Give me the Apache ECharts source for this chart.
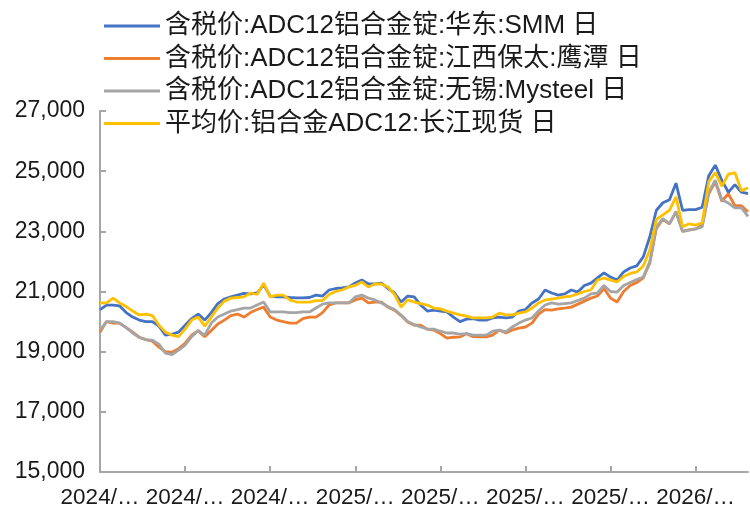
<!DOCTYPE html>
<html>
<head>
<meta charset="utf-8">
<script src="https://cdn.jsdelivr.net/npm/echarts@6/dist/echarts.min.js"></script>
<style>
  html, body { margin: 0; padding: 0; background: #fff; }
  #chart { width: 750px; height: 513px; }
</style>
</head>
<body>
<div id="chart"></div>
<script>
// Weekly ADC12 aluminium alloy ingot prices (yuan/ton, tax included)
const seriesNames = [
  '含税价:ADC12铝合金锭:华东:SMM 日',
  '含税价:ADC12铝合金锭:江西保太:鹰潭 日',
  '含税价:ADC12铝合金锭:无锡:Mysteel 日',
  '平均价:铝合金ADC12:长江现货 日'
];

const smmEast = [
  20400, 20550, 20550, 20520, 20300, 20150, 20050, 20000, 20000, 19850,
  19550, 19580, 19650, 19880, 20100, 20250, 20050, 20300, 20600, 20750,
  20820, 20880, 20940, 20920, 20950, 21220, 20850, 20820, 20820, 20800,
  20790, 20790, 20800, 20880, 20850, 21050, 21100, 21120, 21150, 21280,
  21380, 21250, 21250, 21280, 21100, 20950, 20650, 20850, 20820, 20550,
  20350, 20380, 20350, 20320, 20150, 20000, 20080, 20100, 20050, 20050,
  20120, 20150, 20120, 20150, 20350, 20400, 20620, 20750, 21050, 20950,
  20880, 20920, 21050, 20980, 21200, 21280, 21450, 21620, 21480, 21380,
  21650, 21780, 21850, 22150, 22820, 23700, 23950, 24050, 24600, 23700,
  23720, 23720, 23800, 24850, 25200, 24700, 24300, 24550, 24300, 24250
];

const baotaiYingtan = [
  19650, 20000, 19950, 19950, 19800, 19650, 19480, 19400, 19350, 19150,
  19000, 18980, 19100, 19280, 19550, 19700, 19500, 19700, 19920, 20050,
  20200, 20250, 20150, 20300, 20400, 20480, 20150, 20050, 20000, 19950,
  19950, 20100, 20150, 20150, 20300, 20550, 20620, 20620, 20620, 20720,
  20780, 20620, 20650, 20650, 20480, 20380, 20200, 19990, 19880, 19880,
  19750, 19720, 19600, 19450, 19480, 19490, 19600, 19500, 19490, 19490,
  19550, 19720, 19620, 19720, 19780, 19820, 19950, 20250, 20400, 20380,
  20420, 20450, 20480, 20580, 20680, 20780, 20850, 21100, 20780, 20650,
  21000, 21200, 21300, 21450, 21950, 23100, 23400, 23250, 23650, 23000,
  23050, 23080, 23200, 24250, 24650, 24000, 24250, 23850, 23850, 23650
];

const wuxiMysteel = [
  19720, 20000, 20000, 19950, 19800, 19620, 19470, 19400, 19380, 19250,
  18950, 18900, 19050, 19220, 19500, 19700, 19550, 19950, 20150, 20250,
  20350, 20400, 20450, 20450, 20550, 20650, 20320, 20320, 20320, 20300,
  20300, 20320, 20320, 20450, 20580, 20620, 20620, 20620, 20620, 20820,
  20880, 20780, 20720, 20620, 20500, 20400, 20220, 20000, 19900, 19820,
  19750, 19750, 19680, 19620, 19620, 19580, 19600, 19550, 19550, 19550,
  19680, 19720, 19660, 19820, 19950, 20050, 20120, 20350, 20550, 20620,
  20580, 20600, 20620, 20700, 20780, 20920, 20950, 21200, 21000, 20980,
  21200, 21300, 21400, 21480, 22000, 23150, 23420, 23250, 23650, 23000,
  23040, 23080, 23150, 24300, 24700, 24050, 23940, 23780, 23780, 23500
];

const changjiangSpot = [
  20620, 20620, 20780, 20620, 20500, 20350, 20220, 20250, 20200, 19880,
  19650, 19550, 19500, 19750, 20050, 20150, 19850, 20150, 20450, 20680,
  20780, 20800, 20820, 20950, 20900, 21280, 20820, 20880, 20880, 20720,
  20650, 20650, 20650, 20700, 20700, 20900, 21000, 21050, 21150, 21200,
  21320, 21150, 21250, 21250, 21150, 20900, 20480, 20720, 20650, 20600,
  20550, 20450, 20420, 20350, 20280, 20220, 20180, 20120, 20120, 20120,
  20150, 20280, 20220, 20220, 20280, 20320, 20450, 20620, 20720, 20750,
  20780, 20820, 20850, 20920, 21000, 21050, 21380, 21450, 21380, 21320,
  21500, 21600, 21650, 21850, 22380, 23400, 23550, 23700, 24150, 23150,
  23250, 23210, 23280, 24650, 24950, 24500, 24900, 24950, 24350, 24450
];

// Weekly dates starting from early April 2024
const dates = [];
(function () {
  const d = new Date(Date.UTC(2024, 3, 5));
  for (let i = 0; i < smmEast.length; i++) {
    const y = d.getUTCFullYear();
    const m = String(d.getUTCMonth() + 1).padStart(2, '0');
    const dd = String(d.getUTCDate()).padStart(2, '0');
    dates.push(y + '/' + m + '/' + dd);
    d.setUTCDate(d.getUTCDate() + 7);
  }
})();

const colors = ['#4472C4', '#ED7D31', '#A5A5A5', '#FFC000'];
const values = [smmEast, baotaiYingtan, wuxiMysteel, changjiangSpot];
const fontFamily = '"Liberation Sans", Arial, "Noto Sans CJK SC", sans-serif';

const chart = echarts.init(document.getElementById('chart'), null, { renderer: 'canvas' });
chart.setOption({
  animation: false,
  backgroundColor: '#fff',
  color: colors,
  textStyle: { fontFamily: fontFamily },
  legend: {
    orient: 'vertical',
    left: 99,
    top: 8,
    icon: 'rect',
    itemWidth: 56,
    itemHeight: 3,
    itemGap: 6.5,
    textStyle: { fontSize: 26, color: '#1a1a1a', fontFamily: fontFamily },
    data: seriesNames
  },
  grid: { left: 100, right: 2, top: 111, bottom: 41, containLabel: false },
  xAxis: {
    type: 'category',
    data: dates,
    boundaryGap: false,
    axisLine: { lineStyle: { color: '#A6A6A6', width: 2 } },
    axisTick: { inside: true, length: 6, interval: 12, lineStyle: { color: '#A6A6A6', width: 2 } },
    axisLabel: {
      interval: 12,
      margin: 15,
      fontSize: 22.5,
      color: '#1a1a1a',
      formatter: function (v) { return v.slice(0, 5) + '…'; }
    },
    splitLine: { show: false }
  },
  yAxis: {
    type: 'value',
    min: 15000,
    max: 27000,
    interval: 2000,
    axisLine: { show: true, lineStyle: { color: '#A6A6A6', width: 2 } },
    axisTick: { show: true, inside: true, length: 6, lineStyle: { color: '#A6A6A6', width: 2 } },
    axisLabel: {
      margin: 15,
      fontSize: 23,
      color: '#1a1a1a',
      formatter: function (v) { return v.toLocaleString('en-US'); }
    },
    splitLine: { show: false }
  },
  series: seriesNames.map(function (name, k) {
    return {
      name: name,
      type: 'line',
      data: values[k],
      symbol: 'none',
      showSymbol: false,
      lineStyle: { width: 2.8, color: colors[k] },
      itemStyle: { color: colors[k] }
    };
  })
});
</script>
</body>
</html>
